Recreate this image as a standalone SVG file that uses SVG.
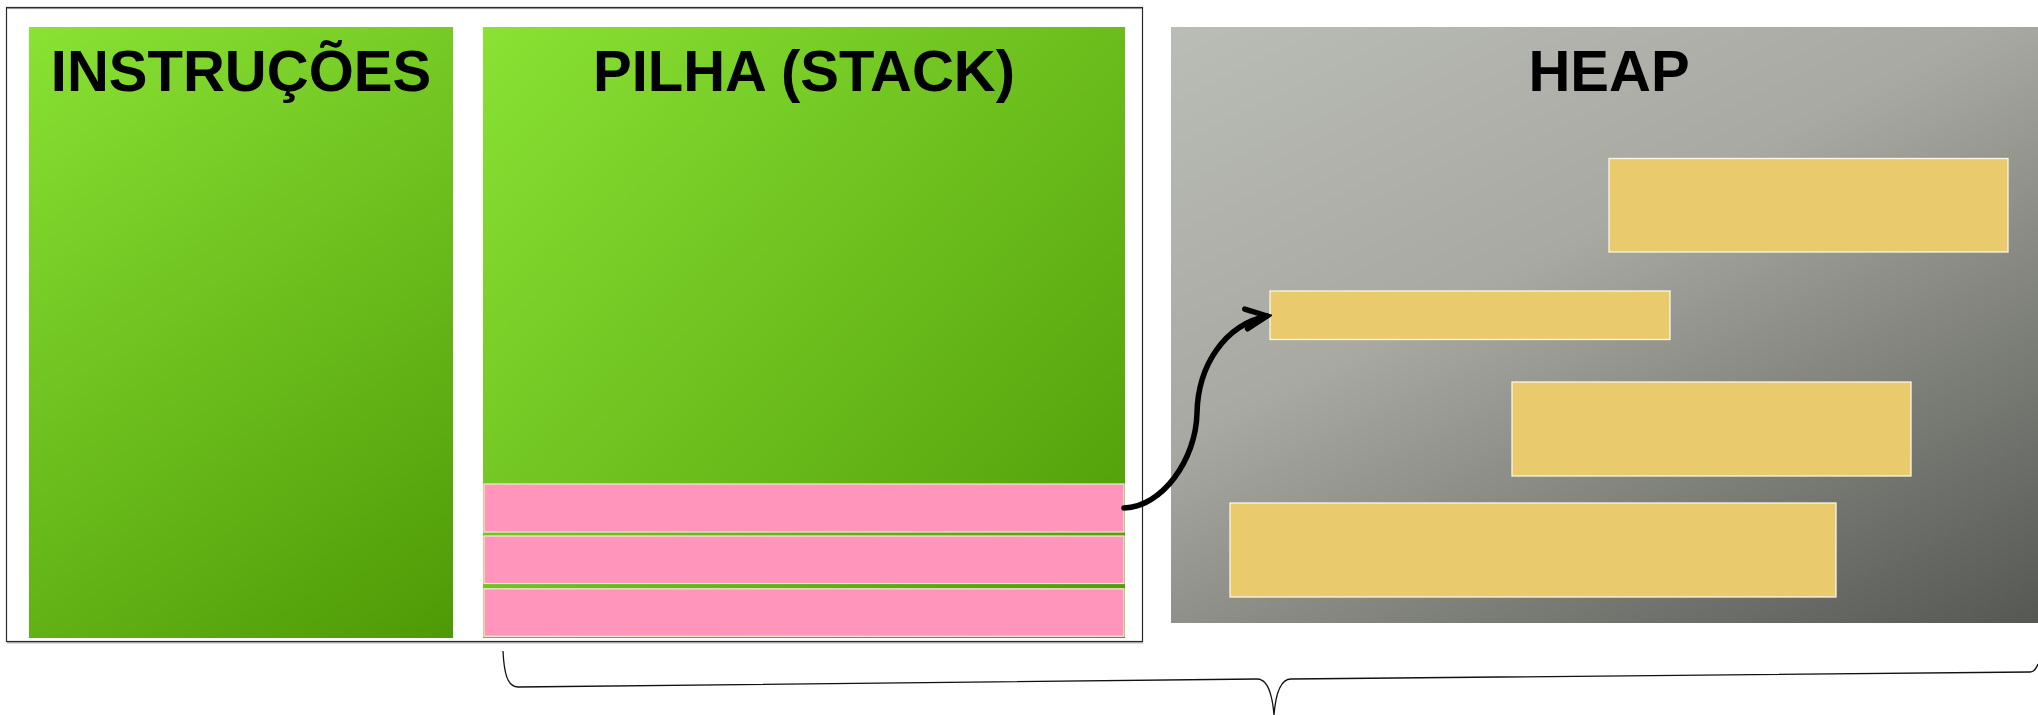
<svg xmlns="http://www.w3.org/2000/svg" width="2038" height="715" viewBox="0 0 2038 715">
  <defs>
    <linearGradient id="gInstr" gradientUnits="userSpaceOnUse" x1="29" y1="27" x2="453" y2="638">
      <stop offset="0" stop-color="#8ae234"/>
      <stop offset="1" stop-color="#4e9a06"/>
    </linearGradient>
    <linearGradient id="gStack" gradientUnits="userSpaceOnUse" x1="483" y1="27" x2="1125" y2="638">
      <stop offset="0" stop-color="#8ae234"/>
      <stop offset="1" stop-color="#4e9a06"/>
    </linearGradient>
    <linearGradient id="gHeap" gradientUnits="userSpaceOnUse" x1="1171" y1="27" x2="1585" y2="856">
      <stop offset="0" stop-color="#babdb6"/>
      <stop offset="0.4" stop-color="#a7a9a2"/>
      <stop offset="0.6" stop-color="#8b8d86"/>
      <stop offset="1" stop-color="#555753"/>
    </linearGradient>
    <marker id="chevron" markerUnits="userSpaceOnUse" viewBox="-27 -15 32 30" markerWidth="32" markerHeight="30" refX="0" refY="0" orient="-8">
      <path d="M-21,-10 L0,0 L-21,10" fill="none" stroke="#000" stroke-width="5.5" stroke-linecap="round" stroke-linejoin="miter"/>
    </marker>
    <style>
      .title { font-family: "Liberation Sans", Arial, sans-serif; font-weight: bold; font-size: 58px; fill: #000; text-anchor: middle; }
      .frame { fill: #fff; stroke: #2a2a2a; stroke-width: 1.2; }
      .frame-edge { fill: none; stroke: #8a8a8a; stroke-width: 1; }
      .slot { fill: #ff95ba; stroke: #f3ead6; stroke-width: 1.2; }
      .block { fill: #e9cb6d; stroke: #fbf6e6; stroke-width: 1.3; }
      .link { fill: none; stroke: #000; stroke-width: 5.5; stroke-linecap: round; }
      .brace { fill: none; stroke: #111; stroke-width: 1.3; }
    </style>
  </defs>

  <!-- program memory frame (instructions + stack) -->
  <g id="frame">
    <rect class="frame" x="6.5" y="7.5" width="1136" height="634"/>
    <path class="frame-edge" d="M7,8.6 H1142 M7,642.8 H1143"/>
  </g>

  <!-- instructions segment -->
  <g id="instrucoes">
    <rect x="29" y="27" width="424" height="611" fill="url(#gInstr)"/>
    <text class="title" x="241" y="91">INSTRUÇÕES</text>
  </g>

  <!-- stack segment with its frames -->
  <g id="pilha">
    <rect x="483" y="27" width="642" height="611" fill="url(#gStack)"/>
    <text class="title" x="804" y="91">PILHA (STACK)</text>
  </g>
  <g id="frame-1">
    <rect class="slot" x="484" y="484" width="640" height="48"/>
  </g>
  <g id="frame-2">
    <rect class="slot" x="484" y="536" width="640" height="47.5"/>
  </g>
  <g id="frame-3">
    <rect class="slot" x="484" y="588.8" width="640" height="47.5"/>
  </g>

  <!-- heap segment with allocated blocks -->
  <g id="heap">
    <rect x="1171" y="27" width="880" height="596" fill="url(#gHeap)"/>
    <text class="title" x="1609" y="91">HEAP</text>
  </g>
  <g id="bloco-1">
    <rect class="block" x="1609" y="158.5" width="399" height="93.5"/>
  </g>
  <g id="bloco-2">
    <rect class="block" x="1270" y="291" width="400" height="48.5"/>
  </g>
  <g id="bloco-3">
    <rect class="block" x="1512" y="382" width="399" height="94"/>
  </g>
  <g id="bloco-4">
    <rect class="block" x="1230" y="503" width="606" height="94"/>
  </g>

  <!-- connectors -->
  <g id="connectors">
    <path class="link" d="M1124,508 C1162,507 1196,460 1197,413 C1198,365 1225,325 1267,316" marker-end="url(#chevron)"/>
    <path class="brace" d="M503,651 C504,672 507,687 518,687 L1257,679 C1266,679 1272,690 1274,715 C1276,690 1282,679 1291,679 L2030,672 C2033,672 2036,669 2038,664"/>
  </g>
</svg>
